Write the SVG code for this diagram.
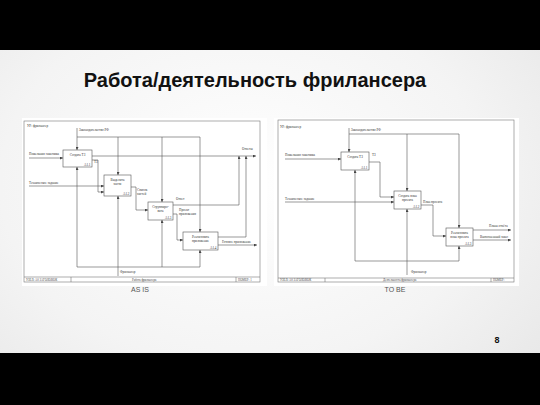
<svg xmlns="http://www.w3.org/2000/svg" width="540" height="405" viewBox="0 0 540 405">
<defs>
<radialGradient id="bg" cx="0.45" cy="0.45" r="0.75">
<stop offset="0" stop-color="#ffffff"/>
<stop offset="0.6" stop-color="#f4f4f4"/>
<stop offset="1" stop-color="#e6e6e6"/>
</radialGradient>
<marker id="ah" viewBox="0 0 6 6" refX="6" refY="3" markerWidth="3" markerHeight="3" markerUnits="userSpaceOnUse" orient="auto">
<path d="M0,0 L6,3 L0,6 z" fill="#444"/>
</marker>
<style>
.ln{fill:none;stroke:#555;stroke-width:0.6}
.lna{fill:none;stroke:#555;stroke-width:0.6;marker-end:url(#ah)}
.box{fill:#fff;stroke:#555;stroke-width:0.6}
.frame{fill:none;stroke:#777;stroke-width:0.6}
.paper{fill:#fff}
.t{font-family:"Liberation Serif",serif;font-size:3.3px;fill:#333}
.tc{font-family:"Liberation Serif",serif;font-size:3.3px;fill:#333;text-anchor:middle}
.ft{font-family:"Liberation Serif",serif;font-size:3px;fill:#444}
.cap{font-family:"Liberation Sans",Arial,sans-serif;font-size:7px;fill:#555;text-anchor:middle}
</style>
</defs>
<rect x="0" y="0" width="540" height="405" fill="url(#bg)"/>
<rect x="0" y="0" width="540" height="50" fill="#000"/>
<rect x="0" y="353" width="540" height="52" fill="#000"/>
<text x="255" y="87" font-family="Liberation Sans, Arial, sans-serif" font-size="20" font-weight="bold" fill="#111" text-anchor="middle">Работа/деятельность фрилансера</text>
<text x="497" y="343" font-family="Liberation Sans, Arial, sans-serif" font-size="9" font-weight="bold" fill="#111" text-anchor="middle">8</text>

<!-- LEFT DIAGRAM (AS IS) -->
<g id="asis-frame">
<rect class="paper" x="22" y="118" width="245" height="168"/>
<rect class="frame" x="24" y="121" width="236" height="161"/>
<line class="frame" x1="24" y1="277" x2="260" y2="277"/>
<line class="frame" x1="71" y1="277" x2="71" y2="282"/>
<line class="frame" x1="236" y1="277" x2="236" y2="282"/>
<text class="ft" x="26" y="280.8">УЗЕЛ:    А0    ЗАГОЛОВОК</text>
<text class="ft" x="132" y="280.8">Работа фрилансера</text>
<text class="ft" x="238" y="280.8">НОМЕР: 1</text>
<text class="t" x="27" y="127">УР: фрилансер</text>
<text class="cap" x="140" y="292">AS IS</text>
</g>
<g id="asis-connectors">
<text class="t" x="79" y="131">Законодательство РФ</text>
<path class="lna" d="M77,128 V150"/>
<path class="ln" d="M77,137 H200"/>
<path class="lna" d="M118,137 V175"/>
<path class="lna" d="M162,137 V202"/>
<path class="lna" d="M200,137 V232"/>
<text class="t" x="29" y="155">Пожелания заказчика</text>
<path class="lna" d="M29,158 H63"/>
<text class="t" x="29" y="184">Техническое задание</text>
<path class="lna" d="M29,186 H104"/>
<path class="lna" d="M92,156 H256"/>
<text class="t" x="242" y="150">Отчеты</text>
<text class="t" x="94" y="163">ТЗ</text>
<path class="lna" d="M92,160 H98 V192 H104"/>
<text class="t" x="137" y="191">Список</text>
<text class="t" x="137" y="195">частей</text>
<path class="lna" d="M131,187 H136 V210 H148"/>
<text class="t" x="176" y="200">Отчет</text>
<path class="lna" d="M173,205 H239 V156"/>
<text class="t" x="179" y="211">Проект</text>
<text class="t" x="179" y="215">приложения</text>
<path class="lna" d="M173,214 H177 V240 H183"/>
<path class="lna" d="M218,237 H246 V156"/>
<text class="t" x="222" y="243">Готовое приложение</text>
<path class="lna" d="M218,245 H257"/>
<text class="t" x="120" y="273">Фрилансер</text>
<path class="lna" d="M118,276 V196"/>
<path class="ln" d="M77,267 H200"/>
<path class="lna" d="M77,267 V167"/>
<path class="lna" d="M162,267 V220"/>
<path class="lna" d="M200,267 V250"/>
</g>
<g id="asis-a11">
<rect class="box" x="63" y="150" width="29" height="17"/>
<text class="tc" x="77.5" y="156">Создать ТЗ</text>
<text class="t" x="84" y="165.5">А1.1</text>
</g>
<g id="asis-a12">
<rect class="box" x="104" y="175" width="27" height="21"/>
<text class="tc" x="117.5" y="181">Выделить</text>
<text class="tc" x="117.5" y="185">части</text>
<text class="t" x="123" y="194.5">А1.2</text>
</g>
<g id="asis-a13">
<rect class="box" x="148" y="202" width="25" height="18"/>
<text class="tc" x="160.5" y="207.5">Сгруппиро-</text>
<text class="tc" x="160.5" y="211.5">вать</text>
<text class="t" x="165" y="218.5">А1.3</text>
</g>
<g id="asis-a14">
<rect class="box" x="183" y="232" width="35" height="18"/>
<text class="tc" x="200.5" y="237.5">Реализовать</text>
<text class="tc" x="200.5" y="241.5">приложение</text>
<text class="t" x="210" y="248.5">А1.4</text>
</g>

<!-- RIGHT DIAGRAM (TO BE) -->
<g id="tobe-frame">
<rect class="paper" x="274" y="118" width="245" height="168"/>
<rect class="frame" x="278" y="120" width="236" height="162"/>
<line class="frame" x1="278" y1="278" x2="514" y2="278"/>
<line class="frame" x1="325" y1="278" x2="325" y2="282"/>
<line class="frame" x1="491" y1="278" x2="491" y2="282"/>
<text class="ft" x="280" y="281.2">УЗЕЛ:    А0    ЗАГОЛОВОК</text>
<text class="ft" x="383" y="281.2">Деятельность фрилансера</text>
<text class="ft" x="493" y="281.2">НОМЕР:</text>
<text class="t" x="280" y="128">УР: фрилансер</text>
<text class="cap" x="395" y="292">TO BE</text>
</g>
<g id="tobe-connectors">
<text class="t" x="351" y="131">Законодательство РФ</text>
<path class="lna" d="M349,128 V152"/>
<path class="ln" d="M349,134 H459"/>
<path class="lna" d="M407,134 V191"/>
<path class="lna" d="M459,134 V228"/>
<text class="t" x="285" y="156">Пожелания заказчика</text>
<path class="lna" d="M285,159 H341"/>
<text class="t" x="285" y="200">Техническое задание</text>
<path class="lna" d="M285,202 H394"/>
<text class="t" x="372" y="156">ТЗ</text>
<path class="lna" d="M369,162 H380 V197 H394"/>
<text class="t" x="423" y="203">План проекта</text>
<path class="lna" d="M421,205 H433 V236 H446"/>
<text class="t" x="489" y="227">Плана отчёта</text>
<path class="lna" d="M473,230 H511"/>
<text class="t" x="480" y="238">Выполненный заказ</text>
<path class="lna" d="M473,240 H511"/>
<path class="lna" d="M355,261 V170"/>
<path class="lna" d="M355,261 H459 V246"/>
<text class="t" x="411" y="273">Фрилансер</text>
<path class="lna" d="M407,275 V209"/>
</g>
<g id="tobe-a11">
<rect class="box" x="341" y="152" width="28" height="18"/>
<text class="tc" x="355" y="158">Создать ТЗ</text>
<text class="t" x="361" y="168.5">А1.1</text>
</g>
<g id="tobe-a12">
<rect class="box" x="394" y="191" width="27" height="18"/>
<text class="tc" x="407.5" y="196.5">Создать план</text>
<text class="tc" x="407.5" y="200.5">проекта</text>
<text class="t" x="413" y="207.5">А1.2</text>
</g>
<g id="tobe-a13">
<rect class="box" x="446" y="228" width="27" height="18"/>
<text class="tc" x="459.5" y="233.5">Реализовать</text>
<text class="tc" x="459.5" y="237.5">план проекта</text>
<text class="t" x="465" y="244.5">А1.3</text>
</g>
</svg>
